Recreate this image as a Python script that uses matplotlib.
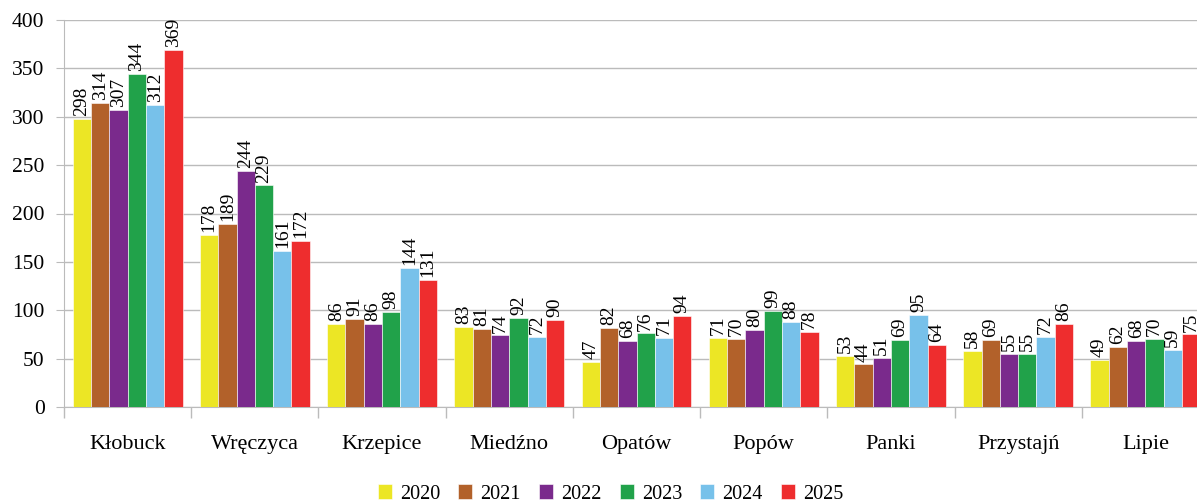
import matplotlib
matplotlib.use("Agg")
import matplotlib.pyplot as plt
import numpy as np
from matplotlib.ticker import FixedLocator

categories = ["Kłobuck", "Wręczyca", "Krzepice", "Miedźno", "Opatów", "Popów", "Panki", "Przystajń", "Lipie"]
years = ["2020", "2021", "2022", "2023", "2024", "2025"]
v2020 = [298, 178, 86, 83, 47, 71, 53, 58, 49]
v2021 = [314, 189, 91, 81, 82, 70, 44, 69, 62]
v2022 = [307, 244, 86, 74, 68, 80, 51, 55, 68]
v2023 = [344, 229, 98, 92, 76, 99, 69, 55, 70]
v2024 = [312, 161, 144, 72, 71, 88, 95, 72, 59]
v2025 = [369, 172, 131, 90, 94, 78, 64, 86, 75]
series = [v2020, v2021, v2022, v2023, v2024, v2025]
colors = ["#ECE625", "#B2612A", "#7A2A8C", "#21A24A", "#77C1EA", "#EE2D2E"]

plt.rcParams['font.family'] = ['Liberation Serif', 'DejaVu Serif']

fig = plt.figure(figsize=(11.97, 5.04), dpi=100)
ax = fig.add_axes([64/1197, 97/504, 1145/1197, 387/504])

x = np.arange(len(categories))
bw = 0.144
for i, (vals, c, yr) in enumerate(zip(series, colors, years)):
    pos = x + (i - 2.5) * bw
    ax.bar(pos, vals, width=bw, color=c, edgecolor="white", linewidth=0.4, label=yr, zorder=3)
    for p, v in zip(pos, vals):
        ax.text(p, v + 3, str(v), rotation=90, ha="center", va="bottom", fontsize=14, zorder=4)

ax.set_xlim(-0.5, len(categories) - 0.5)
ax.set_ylim(0, 400)
ax.set_yticks(range(0, 401, 50))
ax.tick_params(axis="y", labelsize=15.5, length=6, color="#BBBBBB", pad=8)
ax.yaxis.grid(True, color="#BBBBBB", linewidth=1, zorder=0)
ax.set_xticks(x)
ax.set_xticklabels(categories, fontsize=16)
ax.tick_params(axis="x", which="major", length=0, pad=20)
ax.xaxis.set_minor_locator(FixedLocator(np.arange(-0.5, len(categories), 1.0)))
ax.tick_params(axis="x", which="minor", length=8, color="#BBBBBB", width=1)
for s in ["top", "right"]:
    ax.spines[s].set_visible(False)
ax.spines["left"].set_color("#BBBBBB")
ax.spines["bottom"].set_color("#BBBBBB")

leg = fig.legend(loc="lower center", bbox_to_anchor=(0.51, -0.035), ncol=6, frameon=False,
                 fontsize=14.5, handlelength=0.7, handleheight=0.7, handletextpad=0.4, columnspacing=0.9)

fig.savefig("out.png", dpi=100)
